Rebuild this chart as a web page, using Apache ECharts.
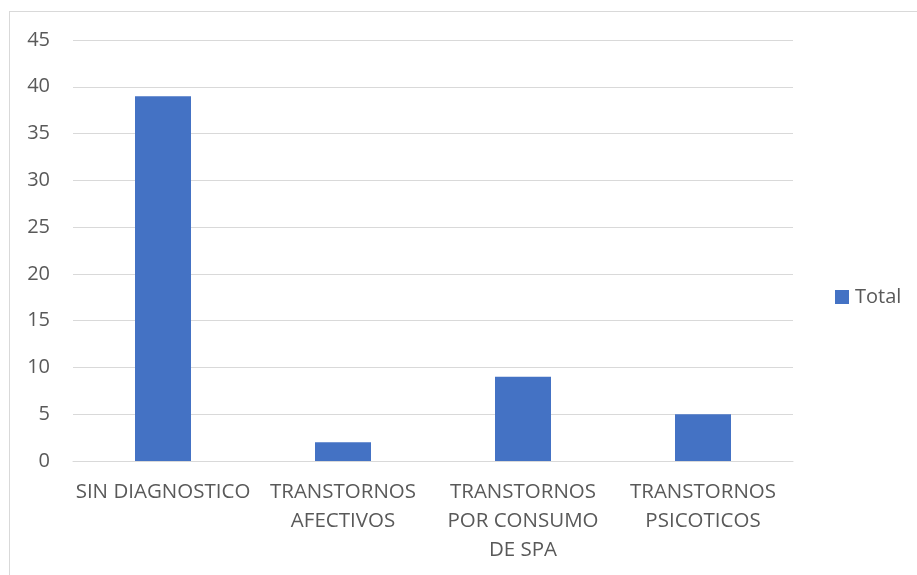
<!DOCTYPE html>
<html>
<head>
<meta charset="utf-8">
<script src="https://cdn.jsdelivr.net/npm/echarts@6/dist/echarts.min.js"></script>
<style>
  html, body { margin: 0; padding: 0; background: #fff; }
  #frame { position: absolute; left: 9px; top: 11px; width: 920px; height: 580px; border: 1px solid #d9d9d9; box-sizing: border-box; }
  #main { position: absolute; left: 0; top: 0; width: 917px; height: 575px; }
</style>
</head>
<body>
<div id="frame"></div>
<div id="main"></div>
<script>
var categories = ['SIN DIAGNOSTICO', 'TRANSTORNOS\nAFECTIVOS', 'TRANSTORNOS\nPOR CONSUMO\nDE SPA', 'TRANSTORNOS\nPSICOTICOS'];
var totals = [39, 2, 9, 5];
var yTicks = [0, 5, 10, 15, 20, 25, 30, 35, 40, 45];

var font = 'Open Sans';
var myChart = echarts.init(document.getElementById('main'));
var option = {
    animation: false,
    grid: { left: 73, right: 124, top: 40, bottom: 114 },
    legend: {
        data: ['Total'],
        orient: 'vertical',
        left: 835, top: 287,
        padding: 0,
        itemWidth: 14, itemHeight: 14, itemGap: 6,
        icon: 'rect',
        textStyle: { fontFamily: font, fontSize: 20, color: '#595959', padding: [0, 0, 0, 1] }
    },
    xAxis: {
        type: 'category',
        data: categories,
        axisTick: { show: false },
        axisLine: { lineStyle: { color: '#d9d9d9', width: 1 } },
        axisLabel: { interval: 0, margin: 17, fontFamily: font, fontSize: 20.5, color: '#595959', lineHeight: 29 }
    },
    yAxis: {
        type: 'value',
        min: yTicks[0],
        max: yTicks[yTicks.length - 1],
        interval: 5,
        axisLine: { show: false },
        axisTick: { show: false },
        splitLine: { lineStyle: { color: '#d9d9d9', width: 1 } },
        axisLabel: { margin: 23, fontFamily: font, fontSize: 20, color: '#595959' }
    },
    series: [{
        name: 'Total',
        type: 'bar',
        data: totals,
        barWidth: 56,
        itemStyle: { color: '#4472c4' }
    }]
};
myChart.setOption(option);
</script>
</body>
</html>
